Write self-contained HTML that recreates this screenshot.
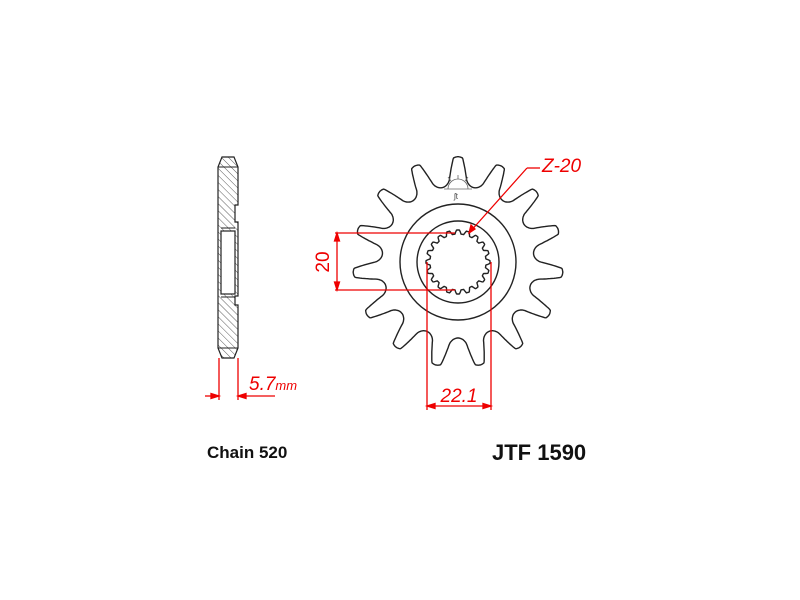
<!DOCTYPE html>
<html><head><meta charset="utf-8"><style>
html,body{margin:0;padding:0;background:#fff;}
svg{display:block;}
text{font-family:"Liberation Sans",sans-serif;}
</style></head><body>
<svg id="s" width="800" height="600" viewBox="0 0 800 600" xmlns="http://www.w3.org/2000/svg">
<defs>
<pattern id="h" width="5" height="5" patternUnits="userSpaceOnUse" patternTransform="rotate(-45)">
<line x1="0" y1="0" x2="0" y2="5" stroke="#333" stroke-width="0.8"/>
</pattern>
</defs>
<path d="M222,157 L234,157 L238,167 L238,205 L235,205 L235,222 L238,222 L238,296 L235,296 L235,305 L238,305 L238,348 L234,358 L222,358 L218,348 L218,167 Z" fill="url(#h)" stroke="#222" stroke-width="1.2"/>
<rect x="221" y="231" width="14" height="63" fill="#fff" stroke="#222" stroke-width="1.2"/>
<line x1="218" y1="167" x2="238" y2="167" stroke="#222" stroke-width="1"/>
<line x1="218" y1="348" x2="238" y2="348" stroke="#222" stroke-width="1"/>
<line x1="221" y1="228" x2="235" y2="228" stroke="#222"/>
<line x1="221" y1="297" x2="235" y2="297" stroke="#222"/>
<g stroke="#e00" stroke-width="1.3" fill="#e00">
<line x1="219" y1="358" x2="219" y2="400"/>
<line x1="238" y1="358" x2="238" y2="400"/>
<line x1="205" y1="396" x2="219" y2="396"/>
<line x1="238" y1="396" x2="275" y2="396"/>
<path d="M219,396 l-8,-2.5 v5 z"/><path d="M238,396 l8,-2.5 v5 z"/>
</g>
<text x="249" y="390" fill="#e00" font-size="19" font-style="italic">5.7<tspan font-size="13">mm</tspan></text>
<path id="sp" fill="none" stroke="#222" stroke-width="1.4"/>
<circle cx="458" cy="262" r="58" fill="none" stroke="#222" stroke-width="1.4"/>
<circle cx="458" cy="262" r="41" fill="none" stroke="#222" stroke-width="1.4"/>
<path id="spl" fill="none" stroke="#222" stroke-width="1.4"/>
<g stroke="#666" stroke-width="0.8" fill="none">
<path d="M448,189 a10,10 0 0 1 20,0"/><line x1="444" y1="189" x2="472" y2="189"/>
<line x1="458" y1="179" x2="458" y2="175"/><line x1="451" y1="181" x2="448" y2="177"/><line x1="465" y1="181" x2="468" y2="177"/>
<text x="454" y="199" font-size="8" fill="#444" stroke="none">ʃt</text>
</g>
<g stroke="#e00" stroke-width="1.3" fill="#e00">
<line x1="335" y1="233" x2="455" y2="233"/>
<line x1="335" y1="290" x2="455" y2="290"/>
<line x1="337" y1="233" x2="337" y2="290"/>
<path d="M337,233 l-2.5,8 h5 z"/><path d="M337,290 l-2.5,-8 h5 z"/>
<line x1="427" y1="262" x2="427" y2="410"/>
<line x1="491" y1="262" x2="491" y2="410"/>
<line x1="427" y1="406" x2="491" y2="406"/>
<path d="M427,406 l8,-2.5 v5 z"/><path d="M491,406 l-8,-2.5 v5 z"/>
<line x1="469" y1="233" x2="527" y2="168" fill="none"/>
<line x1="527" y1="168" x2="540" y2="168"/>
<path d="M469,233 l2,-8 l4,4 z"/>
</g>
<text x="330" y="262" fill="#e00" font-size="19" text-anchor="middle" transform="rotate(-90 330 262)" dy="-1">20</text>
<text x="459" y="402" fill="#e00" font-size="19" font-style="italic" text-anchor="middle">22.1</text>
<text x="542" y="172" fill="#e00" font-size="19" font-style="italic">Z-20</text>
<text x="207" y="458" font-size="17" font-weight="bold" fill="#111">Chain 520</text>
<text x="492" y="460" font-size="22" font-weight="bold" fill="#111">JTF 1590</text>
</svg>
<script>
(function(){
var cx=458,cy=262,N=15,Rr=76,rs=10,Rc=Rr+rs,R0=90,Ro=104;
var st=2*Math.PI/N;
var half=st/2*R0;
var x0=9.5, r0=Rc-Math.sqrt(rs*rs-x0*x0), xt=half-4, sl=(Ro-r0)/(xt-x0);
function rad(x){
 if(x<x0) return Rc-Math.sqrt(rs*rs-x*x);
 if(x<xt) return r0+sl*(x-x0);
 var u=(half-x)/4; return Ro+1.3*(1-u*u);
}
var d="",K=1200;
for(var k=0;k<=K;k++){
 var th=-Math.PI/2+k*2*Math.PI/K;
 var ph=((th+Math.PI/2)/st)%1;
 var fv=Math.abs(ph-0.5)*st*R0;
 var r=rad(fv);
 d+=(k==0?"M":"L")+(cx+r*Math.cos(th)).toFixed(1)+","+(cy+r*Math.sin(th)).toFixed(1)+" ";
}
document.getElementById("sp").setAttribute("d",d+"Z");
var s="",M=20,K2=400;
for(var k=0;k<=K2;k++){
 var th=k*2*Math.PI/K2;
 var ph=(th/(2*Math.PI/M))%1;
 var r=Math.max(28,Math.min(32,30+3.2*Math.cos(2*Math.PI*ph)));
 s+=(k==0?"M":"L")+(cx+r*Math.cos(th)).toFixed(1)+","+(cy+r*Math.sin(th)).toFixed(1)+" ";
}
document.getElementById("spl").setAttribute("d",s+"Z");
})();
</script>
</body></html>
